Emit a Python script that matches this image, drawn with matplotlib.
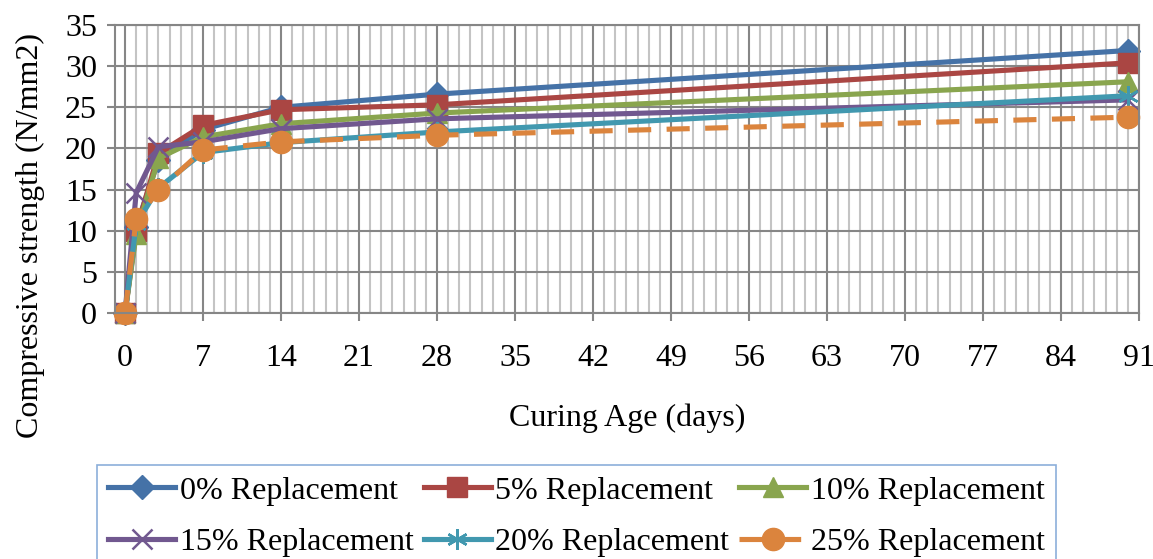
import numpy as np
import matplotlib
matplotlib.use("Agg")
import matplotlib.pyplot as plt
from matplotlib.ticker import MultipleLocator

# curing ages (days) and compressive strength (N/mm2) per replacement level
days = [0, 1, 3, 7, 14, 28, 90]
rep_0 = [0, 10.5, 18.6, 22.3, 25.0, 26.6, 31.9]
rep_5 = [0, 10.0, 19.4, 22.8, 24.7, 25.3, 30.4]
rep_10 = [0, 9.6, 18.8, 21.4, 23.0, 24.3, 28.1]
rep_15 = [0, 14.6, 20.2, 20.8, 22.4, 23.6, 25.9]
rep_20 = [0, 10.8, 15.2, 19.5, 20.7, 22.0, 26.4]
rep_25 = [0, 11.4, 14.9, 19.8, 20.8, 21.6, 23.8]
labels = ["0% Replacement", "5% Replacement", "10% Replacement",
          "15% Replacement", "20% Replacement", "25% Replacement"]
x_ticks = list(range(0, 92, 7))

plt.rcParams['font.family'] = ['Liberation Serif', 'DejaVu Serif']
FS = 23

fig = plt.figure(figsize=(11.53, 5.59), dpi=100)
ax = fig.add_axes([115/1153, 1-313/559, (1139-115)/1153, (313-25)/559])

lw = 3.7
styles = [
    dict(color='#4572A7', marker='D', ms=12),
    dict(color='#AA4643', marker='s', ms=14),
    dict(color='#89A54E', marker='^', ms=15),
    dict(color='#71588F', marker='x', ms=14, mew=1.8),
    dict(color='#4198AF', marker=(6, 2, 0), ms=15, mew=1.8),
    dict(color='#DB843D', marker='o', ms=16, ls=(0, (4.5, 3))),
]
handles = []
for vals, lab, st in zip([rep_0, rep_5, rep_10, rep_15, rep_20, rep_25], labels, styles):
    st = dict(st)
    ls = st.pop('ls', '-')
    h, = ax.plot(days, vals, ls=ls, lw=lw, label=lab, clip_on=False, **st)
    handles.append(h)

ax.set_xlim(-0.9, 91)
ax.set_ylim(0, 35)
ax.set_xticks(x_ticks)
ax.xaxis.set_minor_locator(MultipleLocator(1))
ax.yaxis.set_major_locator(MultipleLocator(5))
ax.grid(which='major', axis='both', color='#868686', lw=1.5)
ax.grid(which='minor', axis='x', color='#c4c4c4', lw=1.5)
ax.set_axisbelow(True)
for s in ax.spines.values():
    s.set_color('#868686')
    s.set_linewidth(1.5)
ax.tick_params(which='major', length=6, width=1.5, color='#868686', labelsize=FS, pad=7)
ax.tick_params(which='minor', length=0)
ax.tick_params(axis='x', pad=16)

ax.set_xlabel("Curing Age (days)", fontsize=FS, labelpad=22)
fig.text(30/1153, 1-235/559, "Compressive strength (N/mm2)", fontsize=FS,
         rotation=90, ha='center', va='center')

order = [0, 3, 1, 4, 2, 5]
leg = fig.legend([handles[i] for i in order], [labels[i] for i in order],
                 ncol=3, loc='upper left', bbox_to_anchor=(97/1153, 1-465/559),
                 fontsize=FS, frameon=True, fancybox=False, handlelength=2.1,
                 columnspacing=0.3, handletextpad=0.15, borderpad=0.35,
                 labelspacing=0.7, borderaxespad=0)
leg.get_frame().set_edgecolor('#6f9bd1')
leg.get_frame().set_linewidth(1.2)

fig.savefig("out.png", dpi=100)
